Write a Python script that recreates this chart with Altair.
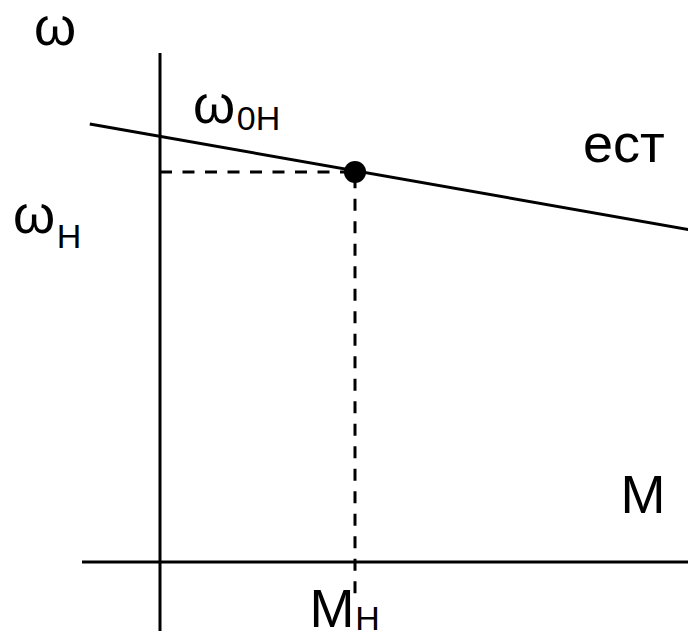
import altair as alt
import pandas as pd

# characteristic line (M, omega)
line_M = [-0.36, 2.75]
line_W = [1.123, 0.849]
# nominal point
nom_M = [1.0]
nom_W = [1.0]
# axes extents
haxis_M = [-0.40, 2.75]
vaxis_W = [-0.20, 1.305]
# domains (visible window)
x_dom = [-0.7795, 2.7077]
y_dom = [-0.1769, 1.4205]

big_labels = ["ω", "ω", "ω", "ест", "M", "M"]
big_M = [-0.5385, 0.277, -0.646, 2.379, 2.477, 0.882]
big_W = [1.3256, 1.1256, 0.8436, 1.0256, 0.1256, -0.1667]
sub_labels = ["0H", "H", "H"]
sub_M = [0.505, -0.4667, 1.064]
sub_W = [1.1077, 0.8051, -0.1744]

W_PX, H_PX = 680, 623
xs = alt.Scale(domain=x_dom, nice=False, zero=False)
ys = alt.Scale(domain=y_dom, nice=False, zero=False)

def X(f="M"):
    return alt.X(f"{f}:Q", scale=xs, axis=None)

def Y(f="W"):
    return alt.Y(f"{f}:Q", scale=ys, axis=None)

h_axis = alt.Chart(pd.DataFrame({"M": [haxis_M[0]], "M2": [haxis_M[1]], "W": [0.0]})).mark_rule(
    color="black", strokeWidth=3, clip=True).encode(x=X(), x2="M2:Q", y=Y())
v_axis = alt.Chart(pd.DataFrame({"M": [0.0], "W": [vaxis_W[0]], "W2": [vaxis_W[1]]})).mark_rule(
    color="black", strokeWidth=3, clip=True).encode(x=X(), y=Y(), y2="W2:Q")

main_line = alt.Chart(pd.DataFrame({"M": line_M, "W": line_W})).mark_line(
    color="black", strokeWidth=3, clip=True).encode(x=X(), y=Y())

dash_h = alt.Chart(pd.DataFrame({"M": [0.0], "M2": nom_M, "W": nom_W})).mark_rule(
    color="black", strokeWidth=3, strokeDash=[12, 10.5]).encode(x=X(), x2="M2:Q", y=Y())
dash_v = alt.Chart(pd.DataFrame({"M": nom_M, "W": [-0.08], "W2": nom_W})).mark_rule(
    color="black", strokeWidth=3, strokeDash=[12, 10.5]).encode(x=X(), y=Y(), y2="W2:Q")

point = alt.Chart(pd.DataFrame({"M": nom_M, "W": nom_W})).mark_circle(
    color="black", opacity=1, size=490).encode(x=X(), y=Y())

big_text = alt.Chart(pd.DataFrame({"M": big_M, "W": big_W, "t": big_labels})).mark_text(
    font="Liberation Sans", fontSize=54, color="black", align="center", baseline="alphabetic"
).encode(x=X(), y=Y(), text="t:N")

sub_text = alt.Chart(pd.DataFrame({"M": sub_M, "W": sub_W, "t": sub_labels})).mark_text(
    font="Liberation Sans", fontSize=34, color="black", align="center", baseline="alphabetic"
).encode(x=X(), y=Y(), text="t:N")

chart = alt.layer(h_axis, v_axis, main_line, dash_h, dash_v, point, big_text, sub_text).properties(
    width=W_PX, height=H_PX, padding=0, autosize=alt.AutoSizeParams(type="none")
).configure_view(stroke=None)

chart.save("out.html", embed_options={"renderer": "svg", "actions": False})
